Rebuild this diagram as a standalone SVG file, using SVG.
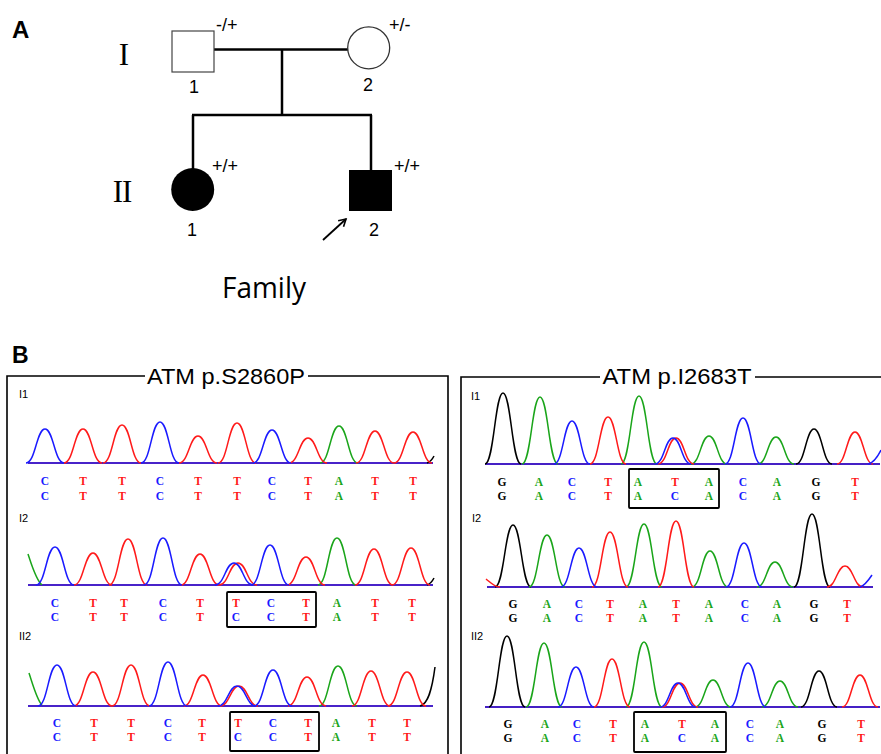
<svg xmlns="http://www.w3.org/2000/svg" width="881" height="754" viewBox="0 0 881 754">
<style>
.bg{fill:#fff}
.ln{stroke:#000;stroke-width:2.5;fill:none}
.lbl{font-family:"Liberation Sans",Arial,sans-serif;fill:#000}
.gt{font-family:"Liberation Sans",Arial,sans-serif;fill:#000;font-size:18px}
.rom{font-family:"Liberation Serif","Times New Roman",serif;fill:#000}
.frame{stroke:#000;stroke-width:1.6;fill:none}
.box{stroke:#000;stroke-width:1.8;fill:none}
.tr{fill:none;stroke-width:1.5;stroke-linejoin:round}
.k{stroke:#000}.g{stroke:#1aa51a}.r{stroke:#ff1a1a}.b{stroke:#1a1aff}
.seq{font-family:"Liberation Serif","Times New Roman",serif;font-size:11.5px;font-weight:bold;text-anchor:middle}
.C{fill:#1a1aff}.T{fill:#ff1a1a}.A{fill:#1aa51a}.G{fill:#000}
.tl{font-family:"Liberation Sans",Arial,sans-serif;font-size:11px;fill:#000}
</style>
<defs>
<marker id="ah" markerWidth="10" markerHeight="10" refX="8" refY="5" orient="auto" markerUnits="userSpaceOnUse">
<path d="M1,1 L8,5 L1,9" fill="none" stroke="#000" stroke-width="1.6"/>
</marker>
</defs>
<rect class="bg" x="0" y="0" width="881" height="754"/>

<!-- Panel A -->
<text class="lbl" x="12" y="38" font-size="24" font-weight="bold">A</text>
<text class="rom" x="124" y="65" font-size="31" text-anchor="middle">I</text>
<text class="rom" x="122" y="202" font-size="31" text-anchor="middle" letter-spacing="-1">II</text>

<g id="connectors">
<path class="ln" d="M214,49.5 H348"/>
<path class="ln" d="M282,49.5 V115"/>
<path class="ln" d="M192,115 H372"/>
<path class="ln" d="M193,115 V169"/>
<path class="ln" d="M371,115 V171"/>
<path d="M323,240 L346,219" stroke="#000" stroke-width="1.8" fill="none" marker-end="url(#ah)"/>
</g>

<g id="I1">
<rect x="172" y="31" width="42" height="41" fill="#fff" stroke="#444" stroke-width="1.2"/>
<text class="gt" x="216" y="31">-/+</text>
<text class="lbl" x="194" y="93" font-size="18" text-anchor="middle">1</text>
</g>
<g id="I2">
<circle cx="368.7" cy="47.8" r="21" fill="#fff" stroke="#333" stroke-width="1.3"/>
<text class="gt" x="389" y="31">+/-</text>
<text class="lbl" x="368" y="91" font-size="18" text-anchor="middle">2</text>
</g>
<g id="II1">
<circle cx="192.7" cy="189.5" r="21.5" fill="#000"/>
<text class="gt" x="212" y="172">+/+</text>
<text class="lbl" x="192" y="236" font-size="18" text-anchor="middle">1</text>
</g>
<g id="II2">
<rect x="349" y="170" width="43" height="41" fill="#000"/>
<text class="gt" x="394" y="172">+/+</text>
<text class="lbl" x="374" y="236" font-size="18" text-anchor="middle">2</text>
</g>
<text x="264" y="298" font-family="'Open Sans','Noto Sans',sans-serif" font-size="29" text-anchor="middle" textLength="84" lengthAdjust="spacingAndGlyphs" fill="#000">Family</text>

<!-- Panel B -->
<text class="lbl" x="12" y="363" font-size="23" font-weight="bold">B</text>
<path class="frame" d="M145,376 H7 V760 M308,376 H448 V760"/>
<path class="frame" d="M600,377 H461 V760 M755,377 H885"/>
<text class="lbl" x="226" y="383.5" font-size="22" text-anchor="middle" textLength="158" lengthAdjust="spacingAndGlyphs">ATM p.S2860P</text>
<text class="lbl" x="677" y="384" font-size="22" text-anchor="middle" textLength="149" lengthAdjust="spacingAndGlyphs">ATM p.I2683T</text>

<!-- Left I1 -->
<text class="tl" x="19" y="398">I1</text>
<g>
<path class="tr g" d="M28,463 H433"/><path class="tr r" d="M28,463 H433"/><path class="tr b" d="M28,463 H433"/>
<path class="tr k" d="M427,463 C430,462 432,460 434,456"/>
<path class="tr g" d="M320,463 c9.5,0 10.5,-37 19,-37 c8.5,0 9.5,37 19,37"/>
<path class="tr r" d="M64,463 c9.5,0 10.5,-34 19,-34 c8.5,0 9.5,34 19,34 M103,463 c9.5,0 10.5,-38 19,-38 c8.5,0 9.5,38 19,38 M179,463 c9.5,0 10.5,-27 19,-27 c8.5,0 9.5,27 19,27 M218,463 c9.5,0 10.5,-40 19,-40 c8.5,0 9.5,40 19,40 M289,463 c9.5,0 10.5,-25 19,-25 c8.5,0 9.5,25 19,25 M356,463 c9.5,0 10.5,-32 19,-32 c8.5,0 9.5,32 19,32 M394,463 c9.5,0 10.5,-31 19,-31 c8.5,0 9.5,31 19,31"/>
<path class="tr b" d="M26,463 c9.5,0 10.5,-34 19,-34 c8.5,0 9.5,34 19,34 M141,463 c9.5,0 10.5,-41 19,-41 c8.5,0 9.5,41 19,41 M253,463 c9.5,0 10.5,-33 19,-33 c8.5,0 9.5,33 19,33"/>
</g>
<text class="seq" y="485"><tspan class="C" x="45">C</tspan><tspan class="T" x="83">T</tspan><tspan class="T" x="122">T</tspan><tspan class="C" x="160">C</tspan><tspan class="T" x="198">T</tspan><tspan class="T" x="237">T</tspan><tspan class="C" x="272">C</tspan><tspan class="T" x="308">T</tspan><tspan class="A" x="339">A</tspan><tspan class="T" x="375">T</tspan><tspan class="T" x="413">T</tspan></text>
<text class="seq" y="500"><tspan class="C" x="45">C</tspan><tspan class="T" x="83">T</tspan><tspan class="T" x="122">T</tspan><tspan class="C" x="160">C</tspan><tspan class="T" x="198">T</tspan><tspan class="T" x="237">T</tspan><tspan class="C" x="272">C</tspan><tspan class="T" x="308">T</tspan><tspan class="A" x="339">A</tspan><tspan class="T" x="375">T</tspan><tspan class="T" x="413">T</tspan></text>

<!-- Left I2 -->
<text class="tl" x="19" y="522">I2</text>
<g>
<path class="tr g" d="M28,585 H433"/><path class="tr r" d="M28,585 H433"/><path class="tr b" d="M28,585 H433"/>
<path class="tr k" d="M427,585 C430,584 432,582 434,578"/>
<path class="tr g" d="M28,554 C32,566 36,580 42,585 M318,585 c9.5,0 10.5,-47 19,-47 c8.5,0 9.5,47 19,47"/>
<path class="tr r" d="M74,585 c9.5,0 10.5,-32 19,-32 c8.5,0 9.5,32 19,32 M109,585 c9.5,0 10.5,-46 19,-46 c8.5,0 9.5,46 19,46 M181,585 c9.5,0 10.5,-31 19,-31 c8.5,0 9.5,31 19,31 M219,585 c9.5,0 10.5,-22 19,-22 c8.5,0 9.5,22 19,22 M287,585 c9.5,0 10.5,-28 19,-28 c8.5,0 9.5,28 19,28 M355,585 c9.5,0 10.5,-36 19,-36 c8.5,0 9.5,36 19,36 M392,585 c9.5,0 10.5,-37 19,-37 c8.5,0 9.5,37 19,37"/>
<path class="tr b" d="M36,585 c9.5,0 10.5,-38 19,-38 c8.5,0 9.5,38 19,38 M144,585 c9.5,0 10.5,-47 19,-47 c8.5,0 9.5,47 19,47 M215,585 c9.5,0 10.5,-22 19,-22 c8.5,0 9.5,22 19,22 M251,585 c9.5,0 10.5,-40 19,-40 c8.5,0 9.5,40 19,40"/>
</g>
<text class="seq" y="607"><tspan class="C" x="55">C</tspan><tspan class="T" x="93">T</tspan><tspan class="T" x="124">T</tspan><tspan class="C" x="163">C</tspan><tspan class="T" x="200">T</tspan><tspan class="T" x="236">T</tspan><tspan class="C" x="271">C</tspan><tspan class="T" x="306">T</tspan><tspan class="A" x="337">A</tspan><tspan class="T" x="375">T</tspan><tspan class="T" x="412">T</tspan></text>
<text class="seq" y="621"><tspan class="C" x="55">C</tspan><tspan class="T" x="93">T</tspan><tspan class="T" x="124">T</tspan><tspan class="C" x="163">C</tspan><tspan class="T" x="200">T</tspan><tspan class="C" x="236">C</tspan><tspan class="C" x="271">C</tspan><tspan class="T" x="306">T</tspan><tspan class="A" x="337">A</tspan><tspan class="T" x="375">T</tspan><tspan class="T" x="412">T</tspan></text>
<rect class="box" x="227" y="592" width="89" height="35" rx="1"/>

<!-- Left II2 -->
<text class="tl" x="19" y="640">II2</text>
<g>
<path class="tr g" d="M28,706 H433"/><path class="tr r" d="M28,706 H433"/><path class="tr b" d="M28,706 H433"/>
<path class="tr k" d="M420,706 C428,704 432,690 435,667"/>
<path class="tr g" d="M29,673 C33,685 37,700 42,705 M319,706 c9.5,0 10.5,-40 19,-40 c8.5,0 9.5,40 19,40"/>
<path class="tr r" d="M74,706 c9.5,0 10.5,-34 19,-34 c8.5,0 9.5,34 19,34 M112,706 c9.5,0 10.5,-41 19,-41 c8.5,0 9.5,41 19,41 M184,706 c9.5,0 10.5,-31 19,-31 c8.5,0 9.5,31 19,31 M220,706 c9.5,0 10.5,-20 19,-20 c8.5,0 9.5,20 19,20 M288,706 c9.5,0 10.5,-29 19,-29 c8.5,0 9.5,29 19,29 M352,706 c9.5,0 10.5,-35 19,-35 c8.5,0 9.5,35 19,35 M388,706 c9.5,0 10.5,-34 19,-34 c8.5,0 9.5,34 19,34"/>
<path class="tr b" d="M38,706 c9.5,0 10.5,-41 19,-41 c8.5,0 9.5,41 19,41 M149,706 c9.5,0 10.5,-44 19,-44 c8.5,0 9.5,44 19,44 M218,706 c9.5,0 10.5,-20 19,-20 c8.5,0 9.5,20 19,20 M254,706 c9.5,0 10.5,-36 19,-36 c8.5,0 9.5,36 19,36"/>
</g>
<text class="seq" y="727"><tspan class="C" x="57">C</tspan><tspan class="T" x="94">T</tspan><tspan class="T" x="131">T</tspan><tspan class="C" x="168">C</tspan><tspan class="T" x="202">T</tspan><tspan class="T" x="238">T</tspan><tspan class="C" x="273">C</tspan><tspan class="T" x="308">T</tspan><tspan class="A" x="336">A</tspan><tspan class="T" x="372">T</tspan><tspan class="T" x="407">T</tspan></text>
<text class="seq" y="741"><tspan class="C" x="57">C</tspan><tspan class="T" x="94">T</tspan><tspan class="T" x="131">T</tspan><tspan class="C" x="168">C</tspan><tspan class="T" x="202">T</tspan><tspan class="C" x="238">C</tspan><tspan class="C" x="273">C</tspan><tspan class="T" x="308">T</tspan><tspan class="A" x="336">A</tspan><tspan class="T" x="372">T</tspan><tspan class="T" x="407">T</tspan></text>
<rect class="box" x="230" y="712" width="89" height="39" rx="1"/>

<!-- Right I1 -->
<text class="tl" x="471" y="400">I1</text>
<g>
<path class="tr k" d="M485,464 H880"/><path class="tr g" d="M485,464 H880"/><path class="tr r" d="M485,464 H880"/><path class="tr b" d="M485,464 H880"/>
<path class="tr k" d="M485,464 c9,0 10,-71 18,-71 c8,0 9,71 18,71 M796,464 c9,0 10,-35 18,-35 c8,0 9,35 18,35"/>
<path class="tr g" d="M522,464 c9,0 10,-67 18,-67 c8,0 9,67 18,67 M621,464 c9,0 10,-68 18,-68 c8,0 9,68 18,68 M691,464 c9,0 10,-28 18,-28 c8,0 9,28 18,28 M758,464 c9,0 10,-27 18,-27 c8,0 9,27 18,27"/>
<path class="tr r" d="M590,464 c9,0 10,-47 18,-47 c8,0 9,47 18,47 M658,464 c9,0 10,-26 18,-26 c8,0 9,26 18,26 M837,464 c9,0 10,-32 18,-32 c8,0 9,32 18,32"/>
<path class="tr b" d="M554,464 c9,0 10,-43 18,-43 c8,0 9,43 18,43 M655,464 c9,0 10,-26 18,-26 c8,0 9,26 18,26 M725,464 c9,0 10,-46 18,-46 c8,0 9,46 18,46 M868,464 C873,463 877,458 881,450"/>
</g>
<text class="seq" y="486"><tspan class="G" x="502">G</tspan><tspan class="A" x="539">A</tspan><tspan class="C" x="572">C</tspan><tspan class="T" x="608">T</tspan><tspan class="A" x="638">A</tspan><tspan class="T" x="675">T</tspan><tspan class="A" x="709">A</tspan><tspan class="C" x="743">C</tspan><tspan class="A" x="777">A</tspan><tspan class="G" x="816">G</tspan><tspan class="T" x="855">T</tspan></text>
<text class="seq" y="500"><tspan class="G" x="502">G</tspan><tspan class="A" x="539">A</tspan><tspan class="C" x="572">C</tspan><tspan class="T" x="608">T</tspan><tspan class="A" x="638">A</tspan><tspan class="C" x="675">C</tspan><tspan class="A" x="709">A</tspan><tspan class="C" x="743">C</tspan><tspan class="A" x="777">A</tspan><tspan class="G" x="816">G</tspan><tspan class="T" x="855">T</tspan></text>
<rect class="box" x="629" y="469" width="90" height="39" rx="1"/>

<!-- Right I2 -->
<text class="tl" x="472" y="522">I2</text>
<g>
<path class="tr k" d="M487,587 H873"/><path class="tr g" d="M487,587 H873"/><path class="tr r" d="M487,587 H873"/><path class="tr b" d="M487,587 H873"/>
<path class="tr k" d="M495,587 c9,0 10,-62 18,-62 c8,0 9,62 18,62 M794,587 c9,0 10,-73 18,-73 c8,0 9,73 18,73"/>
<path class="tr g" d="M529,587 c9,0 10,-52 18,-52 c8,0 9,52 18,52 M626,587 c9,0 10,-63 18,-63 c8,0 9,63 18,63 M692,587 c9,0 10,-36 18,-36 c8,0 9,36 18,36 M757,587 c9,0 10,-25 18,-25 c8,0 9,25 18,25"/>
<path class="tr r" d="M486,579 C490,582 494,587 500,587 M592,587 c9,0 10,-55 18,-55 c8,0 9,55 18,55 M658,587 c9,0 10,-66 18,-66 c8,0 9,66 18,66 M827,587 c9,0 10,-21 18,-21 c8,0 9,21 18,21"/>
<path class="tr b" d="M561,587 c9,0 10,-39 18,-39 c8,0 9,39 18,39 M726,587 c9,0 10,-44 18,-44 c8,0 9,44 18,44 M860,587 C864,586 868,581 872,575"/>
</g>
<text class="seq" y="608"><tspan class="G" x="513">G</tspan><tspan class="A" x="547">A</tspan><tspan class="C" x="579">C</tspan><tspan class="T" x="610">T</tspan><tspan class="A" x="643">A</tspan><tspan class="T" x="676">T</tspan><tspan class="A" x="709">A</tspan><tspan class="C" x="745">C</tspan><tspan class="A" x="777">A</tspan><tspan class="G" x="814">G</tspan><tspan class="T" x="847">T</tspan></text>
<text class="seq" y="622"><tspan class="G" x="513">G</tspan><tspan class="A" x="547">A</tspan><tspan class="C" x="579">C</tspan><tspan class="T" x="610">T</tspan><tspan class="A" x="643">A</tspan><tspan class="T" x="676">T</tspan><tspan class="A" x="709">A</tspan><tspan class="C" x="745">C</tspan><tspan class="A" x="777">A</tspan><tspan class="G" x="814">G</tspan><tspan class="T" x="847">T</tspan></text>

<!-- Right II2 -->
<text class="tl" x="471" y="640">II2</text>
<g>
<path class="tr k" d="M485,707 H880"/><path class="tr g" d="M485,707 H880"/><path class="tr r" d="M485,707 H880"/><path class="tr b" d="M485,707 H880"/>
<path class="tr k" d="M489,707 c9,0 10,-71 18,-71 c8,0 9,71 18,71 M801,707 c9,0 10,-36 18,-36 c8,0 9,36 18,36"/>
<path class="tr g" d="M526,707 c9,0 10,-64 18,-64 c8,0 9,64 18,64 M626,707 c9,0 10,-65 18,-65 c8,0 9,65 18,65 M695,707 c9,0 10,-27 18,-27 c8,0 9,27 18,27 M762,707 c9,0 10,-26 18,-26 c8,0 9,26 18,26"/>
<path class="tr r" d="M594,707 c9,0 10,-48 18,-48 c8,0 9,48 18,48 M662,707 c9,0 10,-24 18,-24 c8,0 9,24 18,24 M842,707 c9,0 10,-32 18,-32 c8,0 9,32 18,32"/>
<path class="tr b" d="M558,707 c9,0 10,-40 18,-40 c8,0 9,40 18,40 M660,707 c9,0 10,-24 18,-24 c8,0 9,24 18,24 M730,707 c9,0 10,-44 18,-44 c8,0 9,44 18,44"/>
</g>
<text class="seq" y="728"><tspan class="G" x="508">G</tspan><tspan class="A" x="545">A</tspan><tspan class="C" x="577">C</tspan><tspan class="T" x="613">T</tspan><tspan class="A" x="645">A</tspan><tspan class="T" x="682">T</tspan><tspan class="A" x="715">A</tspan><tspan class="C" x="750">C</tspan><tspan class="A" x="780">A</tspan><tspan class="G" x="822">G</tspan><tspan class="T" x="861">T</tspan></text>
<text class="seq" y="742"><tspan class="G" x="508">G</tspan><tspan class="A" x="545">A</tspan><tspan class="C" x="577">C</tspan><tspan class="T" x="613">T</tspan><tspan class="A" x="645">A</tspan><tspan class="C" x="682">C</tspan><tspan class="A" x="715">A</tspan><tspan class="C" x="750">C</tspan><tspan class="A" x="780">A</tspan><tspan class="G" x="822">G</tspan><tspan class="T" x="861">T</tspan></text>
<rect class="box" x="634" y="712" width="92" height="40" rx="1"/>
</svg>
